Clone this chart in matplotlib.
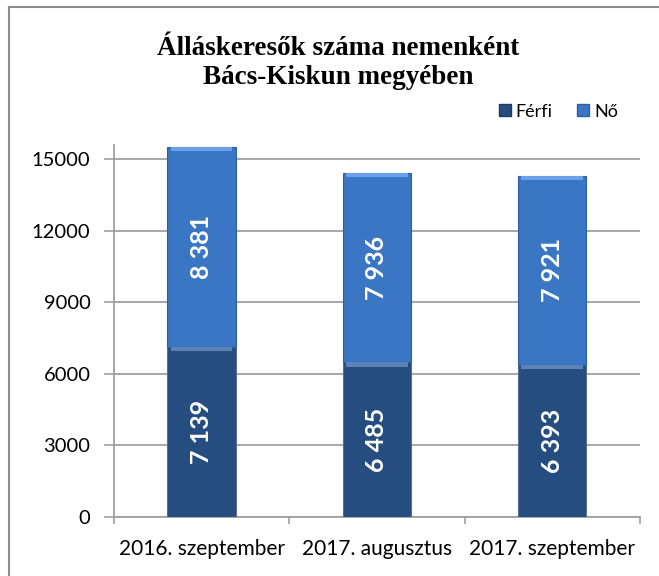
#!/usr/bin/env python3
"""Álláskeresők száma nemenként, Bács-Kiskun megyében — stacked bar chart."""
import matplotlib
matplotlib.use("Agg")
import matplotlib.pyplot as plt
import numpy as np
from matplotlib.lines import Line2D

CATEGORIES = ["2016. szeptember", "2017. augusztus", "2017. szeptember"]
FERFI = [7139, 6485, 6393]
NO = [8381, 7936, 7921]
SERIES = ["Férfi", "Nő"]
LABEL_TXT_FERFI = ["7 139", "6 485", "6 393"]
LABEL_TXT_NO = ["8 381", "7 936", "7 921"]
YTICKS = [0, 3000, 6000, 9000, 12000, 15000]

COL_FERFI = "#264d80"
COL_NO = "#3a76c4"
GRID = "#a0a0a0"

plt.rcParams["font.family"] = ["Lato", "DejaVu Sans"]

fig = plt.figure(figsize=(6.59, 5.76), dpi=100)
ax = fig.add_axes([0.173, 0.1024, 0.798, 0.646])

x = np.arange(len(CATEGORIES))
w = 0.39
ax.bar(x, FERFI, w, color=COL_FERFI, edgecolor="#5b7090", linewidth=0.8,
       label=SERIES[0], zorder=3)
ax.bar(x, NO, w, bottom=FERFI, color=COL_NO, edgecolor="#2f5f9e",
       linewidth=0.8, label=SERIES[1], zorder=3)

# bevel highlight at top of each segment
for xi, f, n in zip(x, FERFI, NO):
    ax.bar(xi, 180, w * 0.9, bottom=f - 180, color="#5b83b8", linewidth=0,
           zorder=4)
    ax.bar(xi, 180, w * 0.9, bottom=f + n - 180, color="#6aa0e6", linewidth=0,
           zorder=4)

for xi, f, n, tf, tn in zip(x, FERFI, NO, LABEL_TXT_FERFI, LABEL_TXT_NO):
    ax.text(xi, f / 2, tf, rotation=90, ha="center", va="center",
            color="white", fontsize=18, fontweight="bold", zorder=5)
    ax.text(xi, f + n / 2, tn, rotation=90, ha="center", va="center",
            color="white", fontsize=18, fontweight="bold", zorder=5)

ax.set_ylim(0, 15600)
ax.set_xlim(-0.5, len(CATEGORIES) - 0.5)
ax.set_yticks(YTICKS)
ax.set_yticklabels([str(v) for v in YTICKS], fontsize=14.5)
ax.set_xticks(x)
ax.set_xticklabels(CATEGORIES, fontsize=15)
ax.set_xticks(np.arange(len(CATEGORIES) + 1) - 0.5, minor=True)
ax.tick_params(axis="x", which="major", length=0, pad=16)
ax.tick_params(axis="x", which="minor", length=5, color=GRID, width=1.2)
ax.tick_params(axis="y", length=7, color=GRID, width=1.2, pad=10)
ax.yaxis.grid(True, color=GRID, linewidth=1.3, zorder=0)
ax.set_axisbelow(True)
for s in ["top", "right"]:
    ax.spines[s].set_visible(False)
for s in ["left", "bottom"]:
    ax.spines[s].set_color(GRID)
    ax.spines[s].set_linewidth(1.3)

# legend
handles = [
    Line2D([], [], marker="s", linestyle="", markersize=9,
           markerfacecolor=COL_FERFI, markeredgecolor="#1c3a63"),
    Line2D([], [], marker="s", linestyle="", markersize=9,
           markerfacecolor=COL_NO, markeredgecolor="#2f5f9e"),
]
fig.legend(handles, SERIES, loc="center", bbox_to_anchor=(0.845, 0.806),
           ncol=2, frameon=False, fontsize=13, handletextpad=0.1,
           columnspacing=1.2, handlelength=1.0)

fig.text(0.513, 0.891, "Álláskeresők száma nemenként\nBács-Kiskun megyében",
         ha="center", va="center", fontsize=19.5, fontweight="bold",
         family=["Liberation Serif", "DejaVu Serif"], linespacing=1.22)

# outer chart frame (left and top edges visible)
fig.add_artist(Line2D([0.0137, 0.0137], [0.0, 0.988], color="#8c8c8c",
                      linewidth=1.5, transform=fig.transFigure))
fig.add_artist(Line2D([0.0137, 1.0], [0.988, 0.988], color="#8c8c8c",
                      linewidth=1.5, transform=fig.transFigure))

fig.savefig("out.png", dpi=100)
